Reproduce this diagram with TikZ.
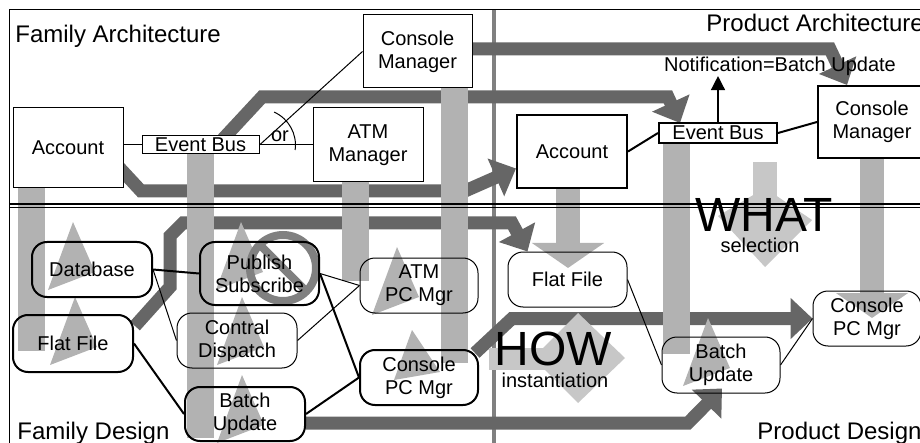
\documentclass[tikz,border=0pt]{standalone}
\usepackage{fontspec}
\setmainfont{Liberation Sans}
\usetikzlibrary{arrows.meta,calc}
\pgfdeclarelayer{bands}
\pgfdeclarelayer{shades}
\pgfsetlayers{bands,shades,main}
\newcommand\boxfont{\fontsize{10}{11.5}\selectfont}
\newcommand\labelfont{\fontsize{12}{14}\selectfont}
\newcommand\bigfont{\fontsize{24}{28}\selectfont}

\begin{document}
\begin{tikzpicture}[x=0.5pt,y=-0.5pt,
    darkband/.style={draw=black!60,line width=6.5pt,-{Triangle[width=20pt,length=11pt]}},
    lightbar/.style={draw=black!30,line width=13.5pt},
    thinline/.style={draw=black,line width=0.5pt},
    thickline/.style={draw=black,line width=1pt}]
    \useasboundingbox (0,0) rectangle (920,443);

    % frame
    \draw[line width=0.5pt] (9,443) -- (9,10) -- (920,10);
    \draw[line width=0.8pt] (9,204) -- (920,204);
    \draw[line width=0.5pt] (9,207.5) -- (920,207.5);

    % architecture
    \begin{scope}[every node/.style={draw,fill=white,line width=0.5pt,inner sep=0pt,align=center,font=\boxfont}]
        \node[minimum width=54.5pt,minimum height=36.5pt] (fCon) at (417.5,51.5) {Console\\Manager};
        \node[minimum width=55pt,minimum height=40pt] (fAcc) at (68,148) {Account};
        \node[minimum width=58.5pt,minimum height=9pt] (fEvt) at (200.5,145) {Event Bus};
        \node[minimum width=55pt,minimum height=37pt] (fATM) at (368,145) {ATM\\Manager};
        \node[line width=1pt,minimum width=55pt,minimum height=36.5pt] (pAcc) at (572,151.5) {Account};
        \node[line width=1pt,minimum width=59pt,minimum height=10pt] (pEvt) at (718,133) {Event Bus};
        \node[line width=1pt,minimum width=54pt,minimum height=36pt] (pCon) at (872,122) {Console\\Manager};
    \end{scope}

    % design
    \begin{scope}[every node/.style={draw,rounded corners=7.5pt,line width=0.5pt,inner sep=0pt,align=center,font=\boxfont,
                                     minimum width=60pt,minimum height=27.5pt}]
        \node[line width=1pt] (fDb) at (92,269.5) {Database};
        \node[line width=1pt,minimum height=28.5pt] (fFlat) at (73,343.5) {Flat File};
        \node[line width=1pt,minimum width=59.5pt,minimum height=31.5pt] (fPub) at (259.5,273.5) {Publish\\Subscribe};
        \node (fDisp) at (237,340.5) {Contral\\Dispatch};
        \node[line width=1pt,minimum height=27pt] (fBatch) at (245,414) {Batch\\Update};
        \node[minimum width=59pt] (fATMpc) at (419,285.5) {ATM\\PC Mgr};
        \node[line width=1pt,minimum width=59pt] (fConpc) at (419,377.5) {Console\\PC Mgr};
        \node[minimum width=59.5pt] (pFlat) at (567.5,279.5) {Flat File};
        \node[minimum width=59pt,minimum height=28pt] (pBatch) at (721,365) {Batch\\Update};
        \node[minimum width=54pt] (pConpc) at (867,318.5) {Console\\PC Mgr};
    \end{scope}

    % connectors
    \draw[thinline] (fAcc.east |- fEvt.west) -- (fEvt.west);
    \draw[thinline] (fEvt.east) -- (fATM.west);
    \draw[thinline] (fEvt.east) -- (fCon.west);
    \draw[thinline] ($(fEvt.east)+(14.6,-32.9)$) arc[start angle=66,end angle=-8,radius=18pt];
    \node[inner sep=0pt,font=\boxfont] (orLabel) at (280,136) {or};

    \draw[thickline] (pAcc.east) -- (pEvt.west);
    \draw[thickline] (pEvt.east) -- (pCon.west);
    \node[anchor=base,inner sep=0pt,font=\boxfont] (note) at (780,71.5) {Notification=Batch Update};
    \draw[line width=0.7pt,-{Triangle[length=7pt,width=7pt]}] (pEvt.north) -- (pEvt.north |- note.south);

    \draw[thickline] (fDb.east) -- (fPub.west);
    \draw[thinline] (fDb.east) -- (fDisp.west);
    \draw[thickline] (fFlat.east) -- (fBatch.west);
    \draw[thinline] (fPub.east) -- (fATMpc.west);
    \draw[thinline] (fDisp.east) -- (fATMpc.west);
    \draw[thickline] (fPub.east) -- (fConpc.west);
    \draw[thickline] (fBatch.east) -- (fConpc.west);
    \draw[thinline] (pFlat.east) -- (pBatch.west);
    \draw[thinline] (pBatch.east) -- (pConpc.west);

    % labels
    \begin{scope}[every node/.style={inner sep=0pt,font=\labelfont}]
        \node[anchor=base west] (famArch) at (15,43) {Family Architecture};
        \node[anchor=base west] (prodArch) at (706,32) {Product Architecture};
        \node[anchor=base west] (famDesign) at (17,439) {Family Design};
        \node[anchor=base west] (prodDesign) at (757,439) {Product Design};
        \node[anchor=base,font=\bigfont] (what) at (764,232) {WHAT};
        \node[anchor=base,font=\boxfont] (selection) at (760,253) {selection};
        \node[anchor=base,font=\bigfont] (how) at (553,365) {HOW};
        \node[anchor=base,font=\boxfont] (inst) at (555,387) {instantiation};
    \end{scope}

    % dark bands: family to product
    \begin{pgfonlayer}{bands}
        \draw[black!50,line width=2pt] (494,10) -- (494,443);
        \path[darkband] ($(fEvt.north)+(22,4)$) -- (262,97) -- (668,97) -- ($(pEvt.north west)+(22,1)$);
        \path[darkband] ($(fAcc.south east)+(-8,-25)$) -- (141,191) -- (465,191) -- ($(pAcc.west)+(0,17)$);
        \path[darkband] ($(fCon.east)+(0,-2.5)$) -- (830,49) -- ($(pCon.north west)+(30,0)$);
        \path[darkband] ($(fFlat.north east)+(1,12)$) -- (170,287) -- (170,236) -- (183,223) -- (512,223) -- ($(pFlat.north west)+(20,0)$);
        \path[darkband] ($(fBatch.east)+(0,9)$) -- (688,423) -- ($(pBatch.south)+(1,-5)$);
        \path[darkband] ($(fConpc.north east)+(-4,4)$) -- (512,318.5) -- (pConpc.west);
    \end{pgfonlayer}

    % light arrows: architecture to design
    \begin{pgfonlayer}{shades}
        \draw[lightbar] ($(fAcc.south west)+(18.5,0)$) -- ++(0,162);
        \draw[lightbar] (fEvt.south) -- ++(0,283);
        \draw[lightbar] ($(fATM.south)+(-13,0)$) -- ++(0,98);
        \draw[lightbar] ($(fCon.south east)+(-18.5,0)$) -- ++(0,274);
        \draw[lightbar] ($(pEvt.south)+(-41.5,0)$) -- ++(0,210);
        \draw[lightbar,line width=12pt,-{Triangle[width=35.5pt,length=12.5pt]}] ($(pAcc.south)+(-4,0)$) -- ++(0,79);
        \draw[lightbar,line width=12pt,-{Triangle[width=35.5pt,length=12.5pt]}] (pCon.south) -- ++(0,159);

        \fill[black!30] (73,222) -- ++(-25,68) -- ++(47,-18) -- cycle;
        \fill[black!30] (75,297) -- ++(-25,68) -- ++(47,-18) -- cycle;
        \fill[black!30] (241,222) -- ++(-25,68) -- ++(47,-18) -- cycle;
        \fill[black!30] (242,297) -- ++(-25,68) -- ++(47,-18) -- cycle;
        \fill[black!30] (242,375) -- ++(-25,68) -- ++(47,-18) -- cycle;
        \fill[black!30] (397,247) -- ++(-25,68) -- ++(47,-18) -- cycle;
        \fill[black!30] (412,330) -- ++(-18,50) -- ++(46,-8) -- cycle;
        \fill[black!30] (708,318) -- ++(-25,68) -- ++(47,-18) -- cycle;

        % what / how
        \fill[black!22] (753,162) rectangle (777,205);
        \fill[black!22] (765,188) -- (812,220) -- (765,267) -- (718,216) -- cycle;
        \fill[black!22] (489,348) rectangle (545,370);
        \fill[black!22] (578,313) -- (625,358) -- (578,403) -- (533,358) -- cycle;

        % not allowed
        \draw[black!50,line width=4pt] (283,268) circle[radius=16.5pt];
        \draw[black!50,line width=4pt] (261,246) -- (305,290);
    \end{pgfonlayer}
\end{tikzpicture}
\end{document}
